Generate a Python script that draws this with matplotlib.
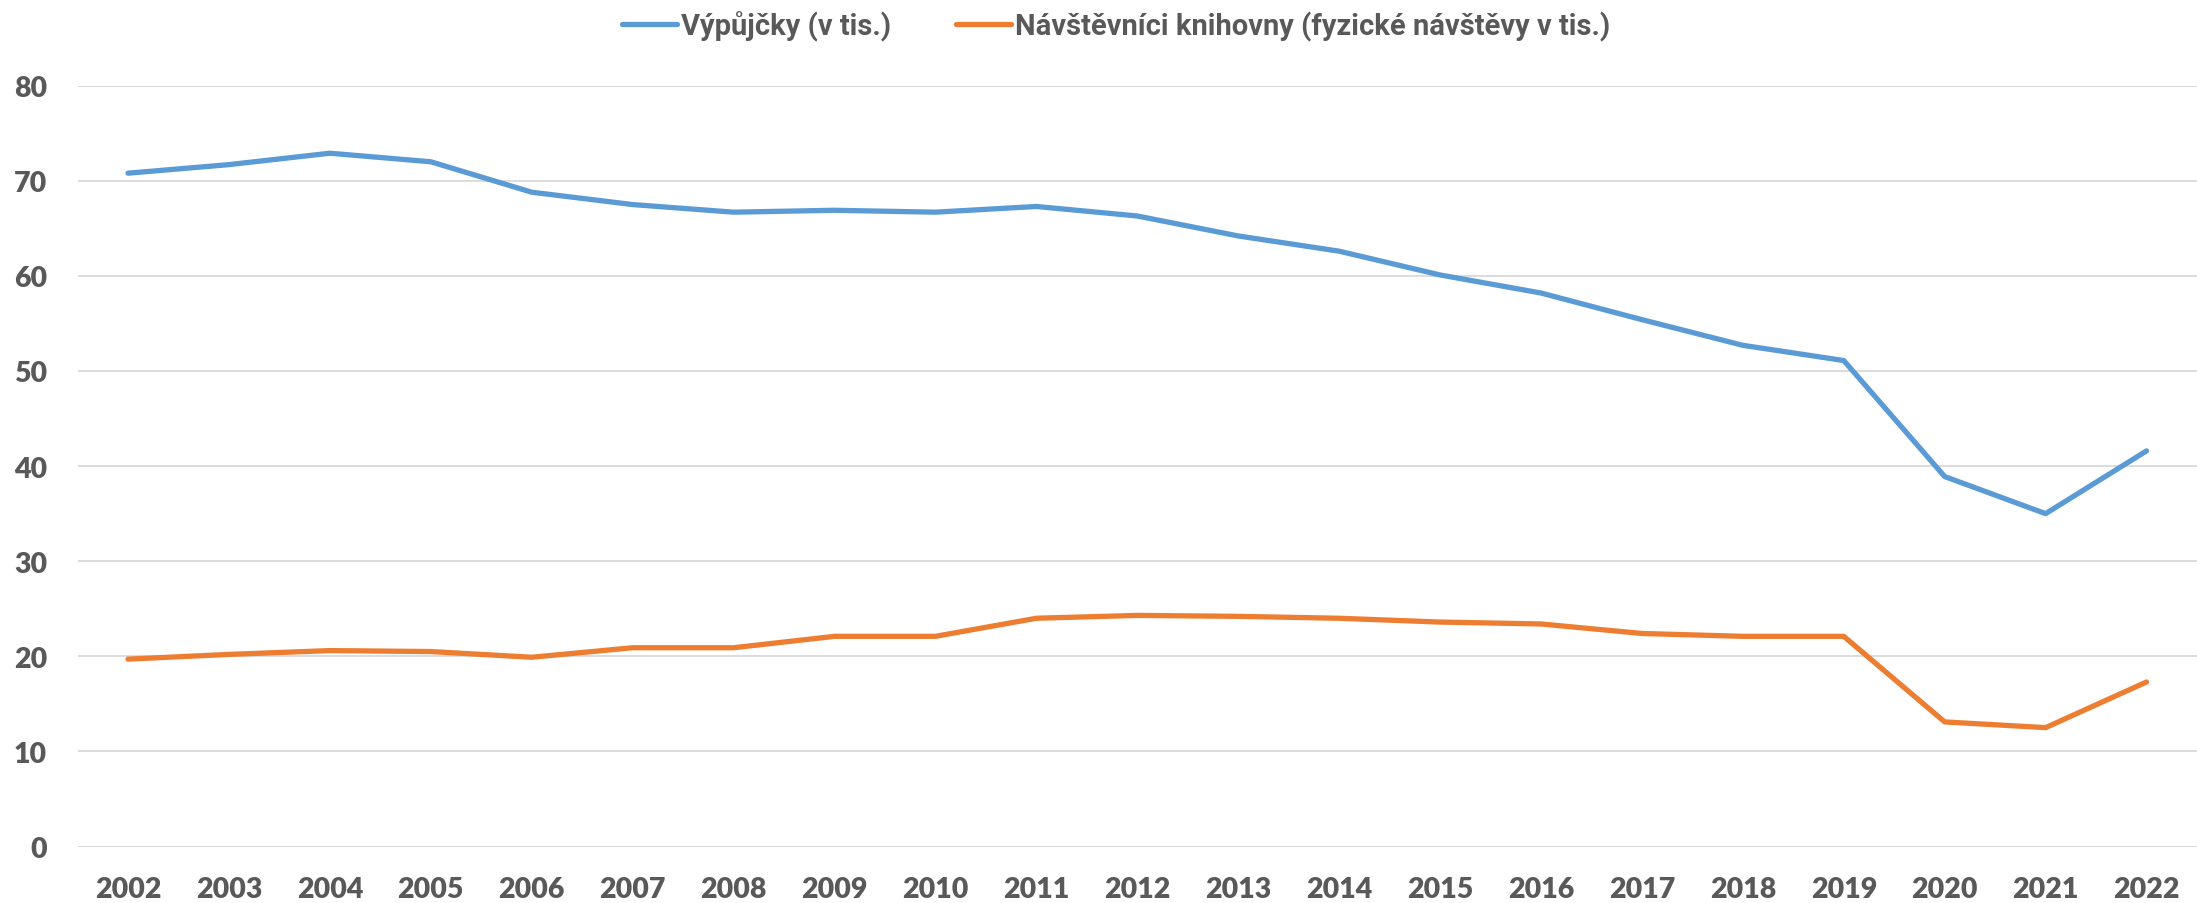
import matplotlib
matplotlib.use("Agg")
import matplotlib.pyplot as plt
from matplotlib import font_manager

years = [str(y) for y in range(2002, 2023)]
vypujcky = [70.8, 71.7, 72.9, 72.0, 68.8, 67.5, 66.7, 66.9, 66.7, 67.3, 66.3,
            64.2, 62.6, 60.1, 58.2, 55.4, 52.7, 51.1, 38.9, 35.0, 41.6]
navstevnici = [19.7, 20.2, 20.6, 20.5, 19.9, 20.9, 20.9, 22.1, 22.1, 24.0, 24.3,
               24.2, 24.0, 23.6, 23.4, 22.4, 22.1, 22.1, 13.1, 12.5, 17.3]
series_labels = ["Výpůjčky (v tis.)", "Návštěvníci knihovny (fyzické návštěvy v tis.)"]
yticks = [0, 10, 20, 30, 40, 50, 60, 70, 80]

names = {f.name for f in font_manager.fontManager.ttflist}
legend_font = "Liberation Sans Narrow" if "Liberation Sans Narrow" in names else "Roboto"
tick_font = "Lato" if "Lato" in names else "DejaVu Sans"

plt.rcParams["font.family"] = [tick_font, "DejaVu Sans"]
plt.rcParams["font.weight"] = "heavy"

fig = plt.figure(figsize=(21.97, 9.04), dpi=100)
ax = fig.add_axes([0.0353, 0.0625, 0.9647, 0.8416])

x = range(len(years))
ax.plot(x, vypujcky, color="#5B9BD5", lw=3.8, label=series_labels[0], solid_capstyle="round")
ax.plot(x, navstevnici, color="#ED7D31", lw=3.8, label=series_labels[1], solid_capstyle="round")

ax.set_xlim(-0.5, len(years) - 0.5)
ax.set_ylim(0, 80)
ax.set_yticks(yticks)
ax.set_xticks(list(x))
ax.set_xticklabels(years)
ax.yaxis.grid(True, color="#D9D9D9", lw=1.3)
ax.set_axisbelow(True)
for s in ax.spines.values():
    s.set_visible(False)
ax.tick_params(length=0, labelsize=20.5, labelcolor="#595959")
ax.tick_params(axis="x", pad=21)
ax.tick_params(axis="y", pad=22)

leg = fig.legend(loc="center", bbox_to_anchor=(0.508, 0.971), ncol=2, frameon=False,
                 handlelength=1.9, handletextpad=0.15, columnspacing=2.2,
                 prop={"family": legend_font, "weight": "bold", "size": 21})
for t in leg.get_texts():
    t.set_color("#595959")

fig.savefig("out.png", dpi=100)
